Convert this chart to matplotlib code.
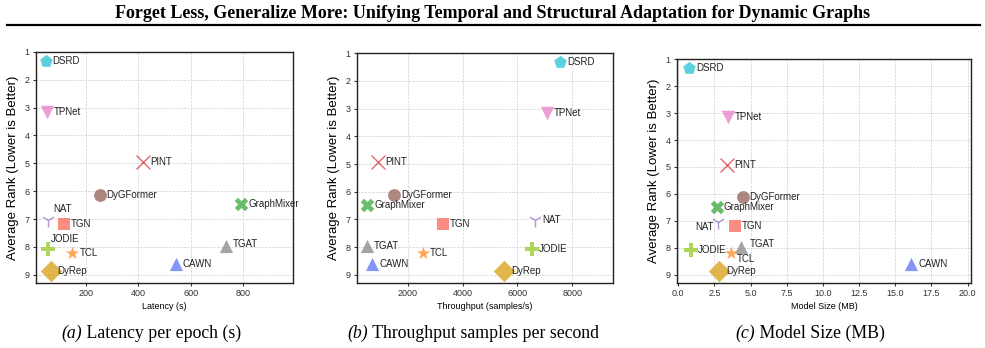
#!/usr/bin/env python3
"""Efficiency comparison: average rank vs latency / throughput / model size."""

import matplotlib
matplotlib.use('Agg')
import matplotlib.pyplot as plt
from matplotlib.lines import Line2D

# Data
models = ['DSRD', 'TPNet', 'PINT', 'DyGFormer', 'GraphMixer', 'NAT',
          'TGN', 'TGAT', 'JODIE', 'TCL', 'CAWN', 'DyRep']
avg_rank = [1.33, 3.15, 4.94, 6.12, 6.47, 7.03, 7.18, 7.96, 8.07, 8.20, 8.61, 8.86]
latency = [47, 51, 419, 253, 792, 56, 116, 734, 56, 149, 543, 66]
throughput = [7550, 7070, 930, 1500, 530, 6640, 3280, 530, 6520, 2570, 710, 5510]
model_size = [0.74, 3.43, 3.38, 4.46, 2.67, 2.74, 3.93, 4.34, 0.88, 3.65, 16.1, 2.85]

# Styles
markers = ['p', 'v', 'x', 'o', 'X', '1', 's', '^', 'P', '*', '^', 'D']
sizes = [90, 95, 100, 85, 95, 100, 80, 90, 95, 100, 90, 120]
colors = ['tab:cyan', 'tab:pink', 'tab:red', 'tab:brown', 'tab:green',
          'tab:purple', 'salmon', 'tab:gray', 'yellowgreen', 'tab:orange',
          '#5b73f5', 'goldenrod']
alphas = [0.7, 0.7, 0.7, 0.7, 0.7, 0.7, 0.9, 0.7, 0.8, 0.7, 0.75, 0.8]

# label offsets in points (dx, dy, ha), per panel
default_off = (5, 0, 'left')
offsets = [
    {'NAT': (4, 8, 'left'), 'JODIE': (2, 7.5, 'left'), 'TGAT': (5, 1.5, 'left')},
    {},
    {'NAT': (-3, -4, 'right'), 'TCL': (4.5, -4.5, 'left'), 'TGAT': (6.5, 2, 'left')},
]

panels = [
    (latency, 'Latency (s)', (10, 990), None),
    (throughput, 'Throughput (samples/s)', (140, 9470), None),
    (model_size, 'Model Size (MB)', (-0.1, 20.25), [0, 2.5, 5, 7.5, 10, 12.5, 15, 17.5, 20]),
]
positions = [
    [0.0365, 0.187, 0.261, 0.664],
    [0.362, 0.187, 0.260, 0.660],
    [0.687, 0.188, 0.299, 0.642],
]
captions = [('(a)', ' Latency per epoch (s)', 0.1538),
            ('(b)', ' Throughput samples per second', 0.480),
            ('(c)', ' Model Size (MB)', 0.822)]

plt.rcParams['font.family'] = ['Liberation Sans', 'DejaVu Sans']

fig = plt.figure(figsize=(9.85, 3.48), dpi=100)

for k, (xs, xlabel, xlim, xticks) in enumerate(panels):
    ax = fig.add_axes(positions[k])
    ax.set_axisbelow(True)
    ax.grid(True, linestyle='--', linewidth=0.5, color='#d0d0d0')
    for i, name in enumerate(models):
        lw = 1.0 if markers[i] in ('x', '1') else 0
        ax.scatter(xs[i], avg_rank[i], marker=markers[i], s=sizes[i], color=colors[i],
                   alpha=alphas[i], linewidths=lw, zorder=3)
        dx, dy, ha = offsets[k].get(name, default_off)
        ax.annotate(name, (xs[i], avg_rank[i]), xytext=(dx, dy),
                    textcoords='offset points', ha=ha, va='center',
                    fontsize=7, color='#222222', zorder=4)
    ax.set_xlim(*xlim)
    ax.set_ylim(9.29, 1.0)
    ax.set_yticks(range(1, 10))
    if xticks is not None:
        ax.set_xticks(xticks)
        ax.set_xticklabels([f'{t:.1f}' for t in xticks])
    ax.set_xlabel(xlabel, fontsize=6.5, labelpad=3)
    ax.set_ylabel('Average Rank (Lower is Better)', fontsize=9.5, labelpad=4)
    ax.tick_params(labelsize=6.5, length=2.5, width=0.8, pad=2, colors='#333333')
    for sp in ax.spines.values():
        sp.set_linewidth(1.0)
        sp.set_color('#222222')

# subcaptions: italic tag + upright text, centred together
renderer = fig.canvas.get_renderer()
for lab, rest, cx in captions:
    t1 = fig.text(0, 0.043, lab, fontsize=12.8, family='Liberation Serif',
                  style='italic', ha='left', va='center')
    t2 = fig.text(0, 0.043, rest, fontsize=12.8, family='Liberation Serif',
                  ha='left', va='center')
    w1 = t1.get_window_extent(renderer).width / fig.bbox.width
    w2 = t2.get_window_extent(renderer).width / fig.bbox.width
    x0 = cx - (w1 + w2) / 2
    t1.set_x(x0)
    t2.set_x(x0 + w1)

# title + rule
fig.text(0.5, 0.960, 'Forget Less, Generalize More: Unifying Temporal and '
         'Structural Adaptation for Dynamic Graphs', fontsize=13,
         family='Liberation Serif', weight='bold', ha='center', va='center')
fig.add_artist(Line2D([0.007, 0.995], [0.928, 0.928], color='black',
                      linewidth=1.6, transform=fig.transFigure))

fig.savefig('out.png', dpi=100)
